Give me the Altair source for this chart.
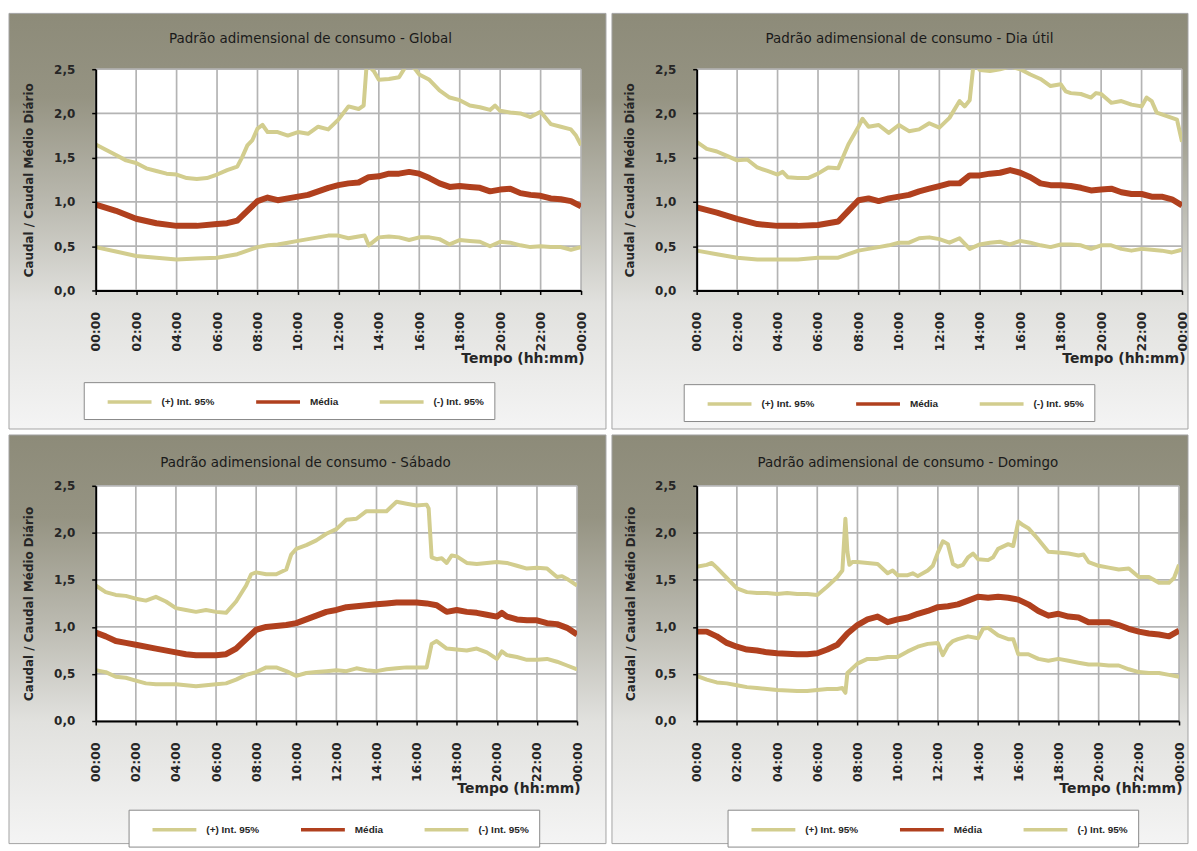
import altair as alt
import pandas as pd

SERIES = ["(+) Int. 95%", "Média", "(-) Int. 95%"]
COLORS = ["#d2cd8e", "#b0401e", "#d2cd8e"]
HOUR_TICKS = list(range(0, 25, 2))
Y_TICKS = [0.0, 0.5, 1.0, 1.5, 2.0, 2.5]
TITLES = [
    "Padrão adimensional de consumo - Global",
    "Padrão adimensional de consumo - Dia útil",
    "Padrão adimensional de consumo - Sábado",
    "Padrão adimensional de consumo - Domingo",
]

# ---------------- Global ----------------
GLOBAL_UP_T = [0, 0.5, 1, 1.5, 2, 2.5, 3, 3.5, 4, 4.5, 5, 5.5, 6, 6.5, 7, 7.25, 7.5, 7.75, 8, 8.25,
               8.5, 9, 9.5, 10, 10.5, 11, 11.5, 12, 12.5, 13, 13.25, 13.4, 13.75, 14, 14.5, 15, 15.3, 15.5, 15.8, 16,
               16.5, 17, 17.5, 18, 18.5, 19, 19.5, 19.75, 20, 20.5, 21, 21.5, 22, 22.5, 23, 23.5, 23.75, 24]
GLOBAL_UP_V = [1.65, 1.59, 1.53, 1.47, 1.44, 1.38, 1.35, 1.32, 1.31, 1.27, 1.26, 1.27, 1.31, 1.36, 1.40, 1.51, 1.64, 1.70, 1.83, 1.87,
               1.79, 1.79, 1.75, 1.79, 1.77, 1.85, 1.82, 1.93, 2.08, 2.05, 2.09, 2.56, 2.48, 2.38, 2.39, 2.41, 2.52, 2.56, 2.50, 2.44,
               2.38, 2.26, 2.18, 2.15, 2.09, 2.07, 2.04, 2.09, 2.03, 2.01, 2.00, 1.96, 2.02, 1.88, 1.85, 1.82, 1.75, 1.64]
GLOBAL_MID_T = [0, 1, 2, 3, 4, 5, 6, 6.5, 7, 7.5, 8, 8.5, 9, 9.5, 10, 10.5, 11, 11.5, 12, 12.5,
                13, 13.5, 14, 14.5, 15, 15.5, 16, 16.5, 17, 17.5, 18, 18.5, 19, 19.5, 20, 20.5, 21, 21.5, 22, 22.5,
                23, 23.5, 24]
GLOBAL_MID_V = [0.97, 0.90, 0.81, 0.76, 0.73, 0.73, 0.75, 0.76, 0.79, 0.90, 1.01, 1.05, 1.02, 1.04, 1.06, 1.08, 1.12, 1.16, 1.19, 1.21,
                1.22, 1.28, 1.29, 1.32, 1.32, 1.34, 1.32, 1.27, 1.21, 1.17, 1.18, 1.17, 1.16, 1.12, 1.14, 1.15, 1.10, 1.08, 1.07, 1.04,
                1.03, 1.01, 0.95]
GLOBAL_LO_T = [0, 1, 2, 3, 4, 5, 6, 6.5, 7, 7.5, 8, 8.5, 9, 9.5, 10, 10.5, 11, 11.5, 12, 12.5,
               13, 13.3, 13.5, 14, 14.5, 15, 15.5, 16, 16.5, 17, 17.5, 18, 18.5, 19, 19.5, 20, 20.5, 21, 21.5, 22,
               22.5, 23, 23.5, 24]
GLOBAL_LO_V = [0.49, 0.44, 0.39, 0.37, 0.35, 0.36, 0.37, 0.39, 0.41, 0.45, 0.49, 0.51, 0.52, 0.54, 0.56, 0.58, 0.60, 0.62, 0.62, 0.59,
               0.61, 0.62, 0.51, 0.60, 0.61, 0.60, 0.57, 0.60, 0.60, 0.58, 0.52, 0.57, 0.56, 0.55, 0.50, 0.55, 0.54, 0.51, 0.49, 0.50,
               0.49, 0.49, 0.46, 0.49]

# ---------------- Dia útil ----------------
UTIL_UP_T = [0, 0.5, 1, 1.5, 2, 2.5, 3, 3.5, 4, 4.25, 4.5, 5, 5.5, 6, 6.5, 7, 7.5, 8, 8.2, 8.5,
             9, 9.5, 10, 10.5, 11, 11.5, 12, 12.5, 13, 13.25, 13.5, 13.7, 14, 14.5, 15, 15.5, 16, 16.5, 17, 17.5,
             18, 18.25, 18.5, 19, 19.5, 19.75, 20, 20.5, 21, 21.5, 22, 22.25, 22.5, 22.75, 23, 23.5, 23.75, 24]
UTIL_UP_V = [1.68, 1.60, 1.57, 1.52, 1.47, 1.48, 1.39, 1.35, 1.31, 1.34, 1.28, 1.27, 1.27, 1.32, 1.39, 1.38, 1.65, 1.85, 1.94, 1.85,
             1.87, 1.78, 1.87, 1.80, 1.82, 1.89, 1.84, 1.95, 2.14, 2.08, 2.15, 2.58, 2.49, 2.48, 2.50, 2.53, 2.50, 2.44, 2.39, 2.31,
             2.33, 2.25, 2.23, 2.22, 2.18, 2.23, 2.22, 2.12, 2.14, 2.10, 2.08, 2.18, 2.14, 2.01, 1.99, 1.95, 1.93, 1.68]
UTIL_MID_T = GLOBAL_MID_T
UTIL_MID_V = [0.94, 0.88, 0.81, 0.75, 0.73, 0.73, 0.74, 0.76, 0.78, 0.90, 1.02, 1.04, 1.01, 1.04, 1.06, 1.08, 1.12, 1.15, 1.18, 1.21,
              1.21, 1.30, 1.30, 1.32, 1.33, 1.36, 1.33, 1.28, 1.21, 1.19, 1.19, 1.18, 1.16, 1.13, 1.14, 1.15, 1.11, 1.09, 1.09, 1.06,
              1.06, 1.03, 0.96]
UTIL_LO_T = [0, 1, 2, 3, 4, 5, 6, 6.5, 7, 7.5, 8, 8.5, 9, 9.5, 10, 10.5, 11, 11.5, 12, 12.5,
             13, 13.5, 14, 14.5, 15, 15.5, 16, 16.5, 17, 17.5, 18, 18.5, 19, 19.5, 20, 20.5, 21, 21.5, 22, 22.5,
             23, 23.5, 24]
UTIL_LO_V = [0.45, 0.41, 0.37, 0.35, 0.35, 0.35, 0.37, 0.37, 0.37, 0.41, 0.45, 0.47, 0.49, 0.51, 0.54, 0.54, 0.59, 0.60, 0.58, 0.54,
             0.59, 0.47, 0.52, 0.54, 0.55, 0.52, 0.56, 0.54, 0.51, 0.49, 0.52, 0.52, 0.51, 0.47, 0.51, 0.51, 0.47, 0.45, 0.47, 0.46,
             0.45, 0.43, 0.46]

# ---------------- Sábado ----------------
SAB_UP_T = [0, 0.5, 1, 1.5, 2, 2.5, 3, 3.5, 4, 4.5, 5, 5.5, 6, 6.5, 7, 7.5, 7.75, 8, 8.5, 9,
            9.5, 9.75, 10, 10.5, 11, 11.5, 12, 12.5, 13, 13.5, 14, 14.5, 15, 15.5, 16, 16.5, 16.6, 16.75, 17, 17.25,
            17.5, 17.75, 18, 18.5, 19, 19.5, 20, 20.5, 21, 21.5, 22, 22.5, 23, 23.25, 23.5, 24]
SAB_UP_V = [1.44, 1.37, 1.34, 1.33, 1.30, 1.28, 1.32, 1.27, 1.20, 1.18, 1.16, 1.18, 1.16, 1.15, 1.27, 1.44, 1.56, 1.58, 1.56, 1.56,
            1.61, 1.77, 1.83, 1.87, 1.92, 1.99, 2.04, 2.14, 2.15, 2.23, 2.23, 2.23, 2.33, 2.31, 2.29, 2.30, 2.26, 1.74, 1.72, 1.73,
            1.68, 1.76, 1.75, 1.68, 1.67, 1.68, 1.69, 1.68, 1.65, 1.62, 1.63, 1.62, 1.53, 1.54, 1.51, 1.44]
SAB_MID_T = [0, 0.5, 1, 1.5, 2, 3, 4, 4.5, 5, 5.5, 6, 6.5, 7, 7.5, 8, 8.5, 9, 9.5, 10, 10.5,
             11, 11.5, 12, 12.5, 13, 13.5, 14, 14.5, 15, 15.5, 16, 16.5, 17, 17.5, 18, 18.5, 19, 19.5, 20, 20.25,
             20.5, 21, 21.5, 22, 22.5, 23, 23.5, 24]
SAB_MID_V = [0.94, 0.90, 0.85, 0.83, 0.81, 0.77, 0.73, 0.71, 0.70, 0.70, 0.70, 0.71, 0.77, 0.87, 0.97, 1.00, 1.01, 1.02, 1.04, 1.08,
             1.12, 1.16, 1.18, 1.21, 1.22, 1.23, 1.24, 1.25, 1.26, 1.26, 1.26, 1.25, 1.23, 1.16, 1.18, 1.16, 1.15, 1.13, 1.11, 1.15,
             1.11, 1.08, 1.07, 1.07, 1.04, 1.03, 0.99, 0.92]
SAB_LO_T = [0, 0.5, 1, 1.5, 2, 2.5, 3, 4, 4.5, 5, 5.5, 6, 6.5, 7, 7.5, 8, 8.5, 9, 9.5, 10,
            10.5, 11, 11.5, 12, 12.5, 13, 13.5, 14, 14.5, 15, 15.5, 16, 16.5, 16.75, 17, 17.5, 18, 18.5, 19, 19.5,
            20, 20.25, 20.5, 21, 21.5, 22, 22.5, 23, 23.5, 24]
SAB_LO_V = [0.54, 0.52, 0.47, 0.46, 0.43, 0.40, 0.39, 0.39, 0.38, 0.37, 0.38, 0.39, 0.40, 0.44, 0.49, 0.52, 0.57, 0.57, 0.53, 0.48,
            0.51, 0.52, 0.53, 0.54, 0.53, 0.56, 0.54, 0.53, 0.55, 0.56, 0.57, 0.57, 0.57, 0.82, 0.85, 0.77, 0.76, 0.75, 0.77, 0.73,
            0.66, 0.74, 0.70, 0.68, 0.65, 0.65, 0.66, 0.63, 0.59, 0.55]

# ---------------- Domingo ----------------
DOM_UP_T = [0, 0.5, 0.75, 1, 1.5, 2, 2.5, 3, 3.5, 4, 4.5, 5, 5.5, 6, 6.5, 7, 7.25, 7.4, 7.5, 7.6,
            7.75, 8, 8.5, 9, 9.5, 9.75, 10, 10.5, 10.75, 11, 11.5, 11.75, 12, 12.25, 12.5, 12.75, 13, 13.25, 13.5, 13.75,
            14, 14.5, 14.75, 15, 15.5, 15.75, 16, 16.25, 16.5, 17, 17.5, 18, 18.5, 19, 19.25, 19.5, 20, 20.5, 21, 21.5,
            22, 22.5, 23, 23.5, 23.75, 24]
DOM_UP_V = [1.64, 1.66, 1.68, 1.63, 1.52, 1.41, 1.37, 1.36, 1.36, 1.35, 1.36, 1.35, 1.35, 1.34, 1.43, 1.53, 1.60, 2.15, 1.80, 1.66,
            1.69, 1.69, 1.68, 1.67, 1.57, 1.60, 1.55, 1.55, 1.57, 1.54, 1.60, 1.65, 1.79, 1.91, 1.88, 1.67, 1.64, 1.66, 1.74, 1.78,
            1.72, 1.71, 1.74, 1.83, 1.88, 1.86, 2.12, 2.08, 2.05, 1.93, 1.80, 1.79, 1.78, 1.76, 1.77, 1.69, 1.65, 1.63, 1.61, 1.62,
            1.53, 1.53, 1.47, 1.47, 1.52, 1.66]
DOM_MID_T = [0, 0.5, 1, 1.5, 2, 2.5, 3, 3.5, 4, 5, 5.5, 6, 6.5, 7, 7.5, 8, 8.5, 9, 9.5, 10,
             10.5, 11, 11.5, 12, 12.5, 13, 13.5, 14, 14.5, 15, 15.5, 16, 16.5, 17, 17.5, 18, 18.5, 19, 19.5, 20,
             20.5, 21, 21.5, 22, 22.5, 23, 23.5, 24]
DOM_MID_V = [0.95, 0.95, 0.90, 0.83, 0.79, 0.76, 0.75, 0.73, 0.72, 0.71, 0.71, 0.72, 0.76, 0.81, 0.93, 1.02, 1.08, 1.11, 1.05, 1.08,
             1.10, 1.14, 1.17, 1.21, 1.22, 1.24, 1.28, 1.32, 1.31, 1.32, 1.31, 1.29, 1.24, 1.17, 1.12, 1.14, 1.11, 1.10, 1.05, 1.05,
             1.05, 1.02, 0.98, 0.95, 0.93, 0.92, 0.90, 0.96]
DOM_LO_T = [0, 0.5, 1, 1.5, 2, 2.5, 3, 3.5, 4, 5, 5.5, 6, 6.5, 7, 7.25, 7.4, 7.5, 8, 8.5, 9,
            9.5, 10, 10.5, 11, 11.5, 12, 12.25, 12.5, 12.75, 13, 13.5, 14, 14.25, 14.5, 15, 15.5, 15.75, 16, 16.5, 17,
            17.5, 18, 18.5, 19, 19.5, 20, 20.5, 21, 21.5, 22, 22.5, 23, 23.5, 24]
DOM_LO_V = [0.48, 0.44, 0.41, 0.40, 0.38, 0.36, 0.35, 0.34, 0.33, 0.32, 0.32, 0.33, 0.34, 0.34, 0.35, 0.30, 0.51, 0.61, 0.66, 0.66,
            0.68, 0.68, 0.74, 0.79, 0.82, 0.83, 0.70, 0.80, 0.85, 0.87, 0.90, 0.88, 0.98, 0.99, 0.91, 0.87, 0.87, 0.71, 0.71, 0.66,
            0.64, 0.66, 0.64, 0.62, 0.60, 0.60, 0.59, 0.59, 0.55, 0.52, 0.51, 0.51, 0.49, 0.47]

DATA = [
    (GLOBAL_UP_T, GLOBAL_UP_V, GLOBAL_MID_T, GLOBAL_MID_V, GLOBAL_LO_T, GLOBAL_LO_V),
    (UTIL_UP_T, UTIL_UP_V, UTIL_MID_T, UTIL_MID_V, UTIL_LO_T, UTIL_LO_V),
    (SAB_UP_T, SAB_UP_V, SAB_MID_T, SAB_MID_V, SAB_LO_T, SAB_LO_V),
    (DOM_UP_T, DOM_UP_V, DOM_MID_T, DOM_MID_V, DOM_LO_T, DOM_LO_V),
]

# layout of each panel (plot size + margins of the panel background around it)
LAYOUT = [
    dict(W=487, H=222, L=87, R=25, T=56, B=139, lx=-12, ly=314, dx=-28, ty=-30, ytx=-67, tty=61),
    dict(W=487, H=222, L=85, R=6, T=56, B=139, lx=-13, ly=316, dx=-30, ty=-30, ytx=-67, tty=61),
    dict(W=483, H=236, L=87, R=29, T=51, B=123, lx=33, ly=325, dx=-31, ty=-23, ytx=-67, tty=61),
    dict(W=484, H=236, L=85, R=9, T=51, B=123, lx=31, ly=325, dx=-30, ty=-23, ytx=-66, tty=61),
]

FONT = "DejaVu Sans"
LFONT = "Liberation Sans"
TXT = "#262626"
GRID = "#b4b4b4"

GRADIENT = alt.LinearGradient(
    gradient="linear", x1=0, x2=0, y1=0, y2=1,
    stops=[
        alt.GradientStop(color="#8d8b79", offset=0),
        alt.GradientStop(color="#959382", offset=0.2),
        alt.GradientStop(color="#b9b8ae", offset=0.45),
        alt.GradientStop(color="#e1e1de", offset=0.7),
        alt.GradientStop(color="#f4f4f4", offset=1),
    ],
)


def panel(i):
    up_t, up_v, mid_t, mid_v, lo_t, lo_v = DATA[i]
    g = LAYOUT[i]
    W, H, L, R, T, B = g["W"], g["H"], g["L"], g["R"], g["T"], g["B"]
    band = pd.concat([
        pd.DataFrame({"t": up_t, "v": up_v, "serie": SERIES[0]}),
        pd.DataFrame({"t": lo_t, "v": lo_v, "serie": SERIES[2]}),
    ], ignore_index=True)
    mid = pd.DataFrame({"t": mid_t, "v": mid_v, "serie": SERIES[1]})

    xs = alt.Scale(domain=[0, 24], nice=False, zero=False)
    ys = alt.Scale(domain=[0, 2.5], nice=False)
    one = alt.Data(values=[{"k": 1}])

    xaxis = alt.Axis(
        values=HOUR_TICKS,
        labelExpr="(datum.value % 24 < 10 ? '0' : '') + (datum.value % 24) + ':00'",
        labelAngle=-90, labelFlush=False, labelOverlap=False,
        labelFont=FONT, labelFontSize=12.5, labelFontWeight="bold", labelColor=TXT, labelPadding=17,
        grid=False, domainColor="black", domainWidth=2, tickColor="black", tickSize=4, tickWidth=1.5,
        title="Tempo (hh:mm)", titleFont=FONT, titleFontSize=14, titleFontWeight="bold", titleColor=TXT,
        titleX=W + 3, titleY=g["tty"], titleAlign="right", titleBaseline="top", zindex=2,
    )
    yaxis = alt.Axis(
        values=Y_TICKS,
        labelExpr="replace(format(datum.value, '.1f'), '.', ',')",
        labelFont=FONT, labelFontSize=12, labelFontWeight="bold", labelColor=TXT, labelPadding=17,
        grid=False, domainColor="black", domainWidth=2, tickColor="black", tickSize=4, tickWidth=1.5,
        title="Caudal / Caudal Médio Diário", titleFont=FONT, titleFontSize=12, titleFontWeight="bold",
        titleColor=TXT, titleAngle=-90, titleX=g["ytx"], titleY=H / 2, titleAlign="center",
        titleBaseline="middle", zindex=2,
    )
    color = alt.Color("serie:N", scale=alt.Scale(domain=SERIES, range=COLORS), legend=alt.Legend(
        title=None, orient="none", legendX=g["lx"], legendY=g["ly"], direction="horizontal",
        symbolType="M0.5,0H6", symbolSize=256, symbolStrokeWidth=3.5,
        fillColor="white", strokeColor="#8a8a8a", padding=10,
        labelFont=LFONT, labelFontSize=10, labelFontWeight="bold", labelColor=TXT,
        labelOffset=48, columnPadding=27, zindex=3,
    ))

    bg = alt.Chart(one).mark_rect(fill=GRADIENT, stroke="#a4a4a4", strokeWidth=1).encode(
        x=alt.value(-L), x2=alt.value(W + R), y=alt.value(-T), y2=alt.value(H + B))
    plotbg = alt.Chart(one).mark_rect(fill="white").encode(
        x=alt.value(0), x2=alt.value(W), y=alt.value(0), y2=alt.value(H))
    title = alt.Chart(one).mark_text(
        text=TITLES[i], font=FONT, fontSize=13.5, fontWeight="normal", color="#1a1a1a",
        align="center", baseline="middle").encode(x=alt.value(W / 2 + g["dx"]), y=alt.value(g["ty"]))
    vgrid = alt.Chart(pd.DataFrame({"t": HOUR_TICKS})).mark_rule(color=GRID, strokeWidth=1.7).encode(
        x=alt.X("t:Q", scale=xs, axis=xaxis))
    hgrid = alt.Chart(pd.DataFrame({"v": Y_TICKS})).mark_rule(color=GRID, strokeWidth=1.7).encode(
        y=alt.Y("v:Q", scale=ys, axis=yaxis))

    band_lines = alt.Chart(band).mark_line(clip=True, strokeJoin="round", strokeWidth=4).encode(
        x=alt.X("t:Q", scale=xs, axis=xaxis),
        y=alt.Y("v:Q", scale=ys, axis=yaxis),
        color=color,
        detail="serie:N",
    )
    mid_line = alt.Chart(mid).mark_line(clip=True, strokeJoin="round", strokeWidth=6).encode(
        x=alt.X("t:Q", scale=xs, axis=xaxis),
        y=alt.Y("v:Q", scale=ys, axis=yaxis),
        color=color,
    )

    return alt.layer(bg, plotbg, title, vgrid, hgrid, band_lines, mid_line).properties(width=W, height=H)


top = alt.hconcat(panel(0), panel(1), spacing=4).resolve_scale(color="independent").resolve_legend(color="independent")
bottom = alt.hconcat(panel(2), panel(3), spacing=4).resolve_scale(color="independent").resolve_legend(color="independent")

chart = alt.vconcat(top, bottom, spacing=4).resolve_scale(color="independent").resolve_legend(
    color="independent"
).properties(
    padding={"left": 0, "top": 3, "right": 0, "bottom": 0},
    background="white",
).configure_view(stroke=None)

chart.save("out.html", embed_options={"renderer": "svg", "actions": False})
